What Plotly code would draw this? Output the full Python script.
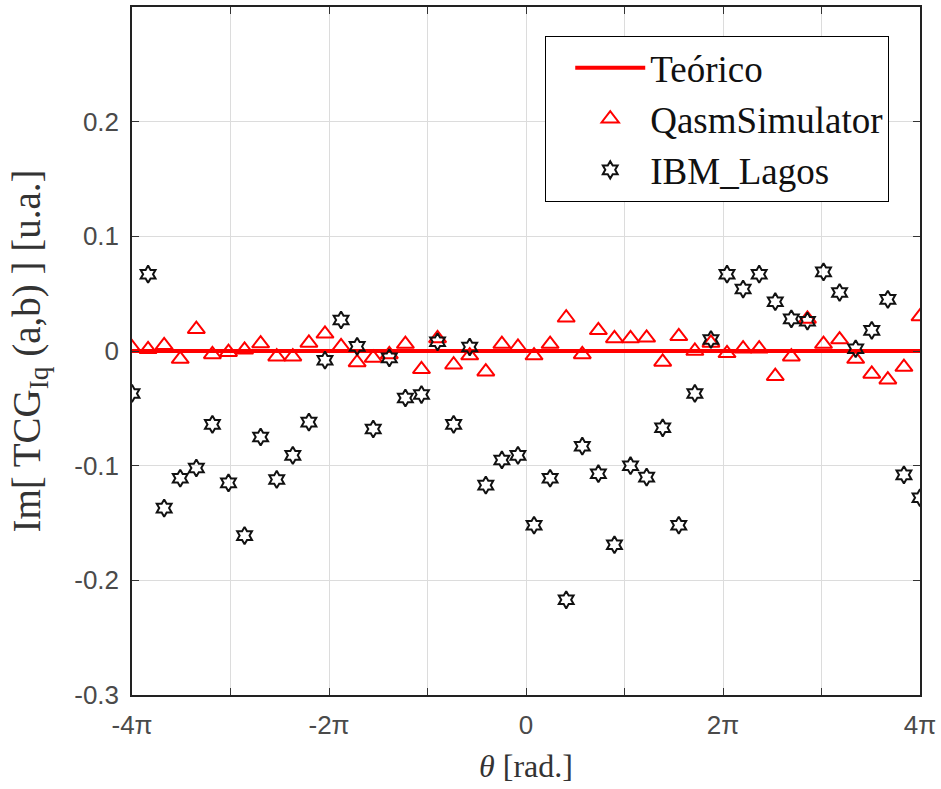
import numpy as np
import plotly.graph_objects as go

# Sample angles (50 evenly spaced samples from -4π to 4π)
theta = np.linspace(-4 * np.pi, 4 * np.pi, 50)

theory_x = [-4 * np.pi, 4 * np.pi]
theory_y = [0.0, 0.0]

qasm = [0.003, 0.0015, 0.005, -0.007, 0.019, -0.003, -0.001, 0.001, 0.0065, -0.005,
        -0.005, 0.007, 0.015, 0.004, -0.010, -0.006, -0.003, 0.006, -0.016, 0.011,
        -0.012, -0.004, -0.018, 0.006, 0.0035, -0.004, 0.006, 0.029, -0.003, 0.018,
        0.011, 0.011, 0.0115, -0.0095, 0.0128, 0.0, 0.007, -0.002, 0.002, 0.002,
        -0.022, -0.005, 0.028, 0.006, 0.010, -0.007, -0.020, -0.025, -0.014, 0.030]

lagos = [-0.037, 0.067, -0.137, -0.111, -0.102, -0.064, -0.115, -0.161, -0.075, -0.112,
         -0.091, -0.062, -0.008, 0.027, 0.004, -0.068, -0.006, -0.041, -0.038, 0.008,
         -0.064, 0.0035, -0.117, -0.095, -0.091, -0.152, -0.111, -0.217, -0.083, -0.107,
         -0.169, -0.100, -0.110, -0.067, -0.152, -0.037, 0.010, 0.067, 0.054, 0.067,
         0.043, 0.028, 0.026, 0.069, 0.051, 0.002, 0.018, 0.045, -0.108, -0.128]

x_tick_mult = [-4, -3, -2, -1, 0, 1, 2, 3, 4]
x_tick_text = ["-4π", " ", "-2π", " ", "0", " ", "2π", " ", "4π"]
y_ticks = [-0.3, -0.2, -0.1, 0, 0.1, 0.2]
y_tick_text = ["-0.3", "-0.2", "-0.1", "0", "0.1", "0.2"]

fig = go.Figure()
fig.add_trace(go.Scatter(x=theory_x, y=theory_y, mode="lines", name="Teórico",
                         line=dict(color="#ff0000", width=4)))
fig.add_trace(go.Scatter(x=theta, y=qasm, mode="markers", name="QasmSimulator",
                         marker=dict(symbol="triangle-up-open", size=15, color="#ff0000",
                                     line=dict(width=2, color="#ff0000"))))
fig.add_trace(go.Scatter(x=theta, y=lagos, mode="markers", name="IBM_Lagos",
                         marker=dict(symbol="hexagram-open", size=13, color="#111111",
                                     line=dict(width=2, color="#111111"))))

tick_font = dict(family="Liberation Sans, Arial", size=26, color="#4a4a4a")
serif = "Liberation Serif, Times New Roman"
fig.update_layout(
    width=941, height=789,
    margin=dict(l=132, r=20, t=5, b=94),
    paper_bgcolor="white", plot_bgcolor="white",
    showlegend=True,
    legend=dict(x=0.9607, y=0.958, xanchor="right", yanchor="top",
                bordercolor="black", borderwidth=1.2, bgcolor="white",
                font=dict(family=serif, size=37, color="#111111"),
                tracegroupgap=0, itemwidth=70, indentation=24),
    xaxis=dict(range=[-4 * np.pi, 4 * np.pi],
               tickvals=[m * np.pi for m in x_tick_mult], ticktext=x_tick_text,
               tickfont=tick_font, ticks="inside", ticklen=7, tickcolor="#333333",
               showline=True, linecolor="#222222", linewidth=1.5, mirror="ticks",
               showgrid=True, gridcolor="#dcdcdc", gridwidth=1, zeroline=False,
               ticklabelstandoff=6,
               title=dict(text="<i>θ</i> [rad.]", standoff=16,
                          font=dict(family=serif, size=32, color="#333333"))),
    yaxis=dict(range=[-0.3, 0.3], tickvals=y_ticks, ticktext=y_tick_text,
               tickfont=tick_font, ticks="inside", ticklen=7, tickcolor="#333333",
               showline=True, linecolor="#222222", linewidth=1.5, mirror="ticks",
               showgrid=True, gridcolor="#dcdcdc", gridwidth=1, zeroline=False,
               ticklabelstandoff=6,
               title=dict(text="Im[ TCG<sub>Iq</sub> (a,b) ] [u.a.]", standoff=22,
                          font=dict(family=serif, size=39, color="#333333"))),
)

fig.write_html("out.html")
